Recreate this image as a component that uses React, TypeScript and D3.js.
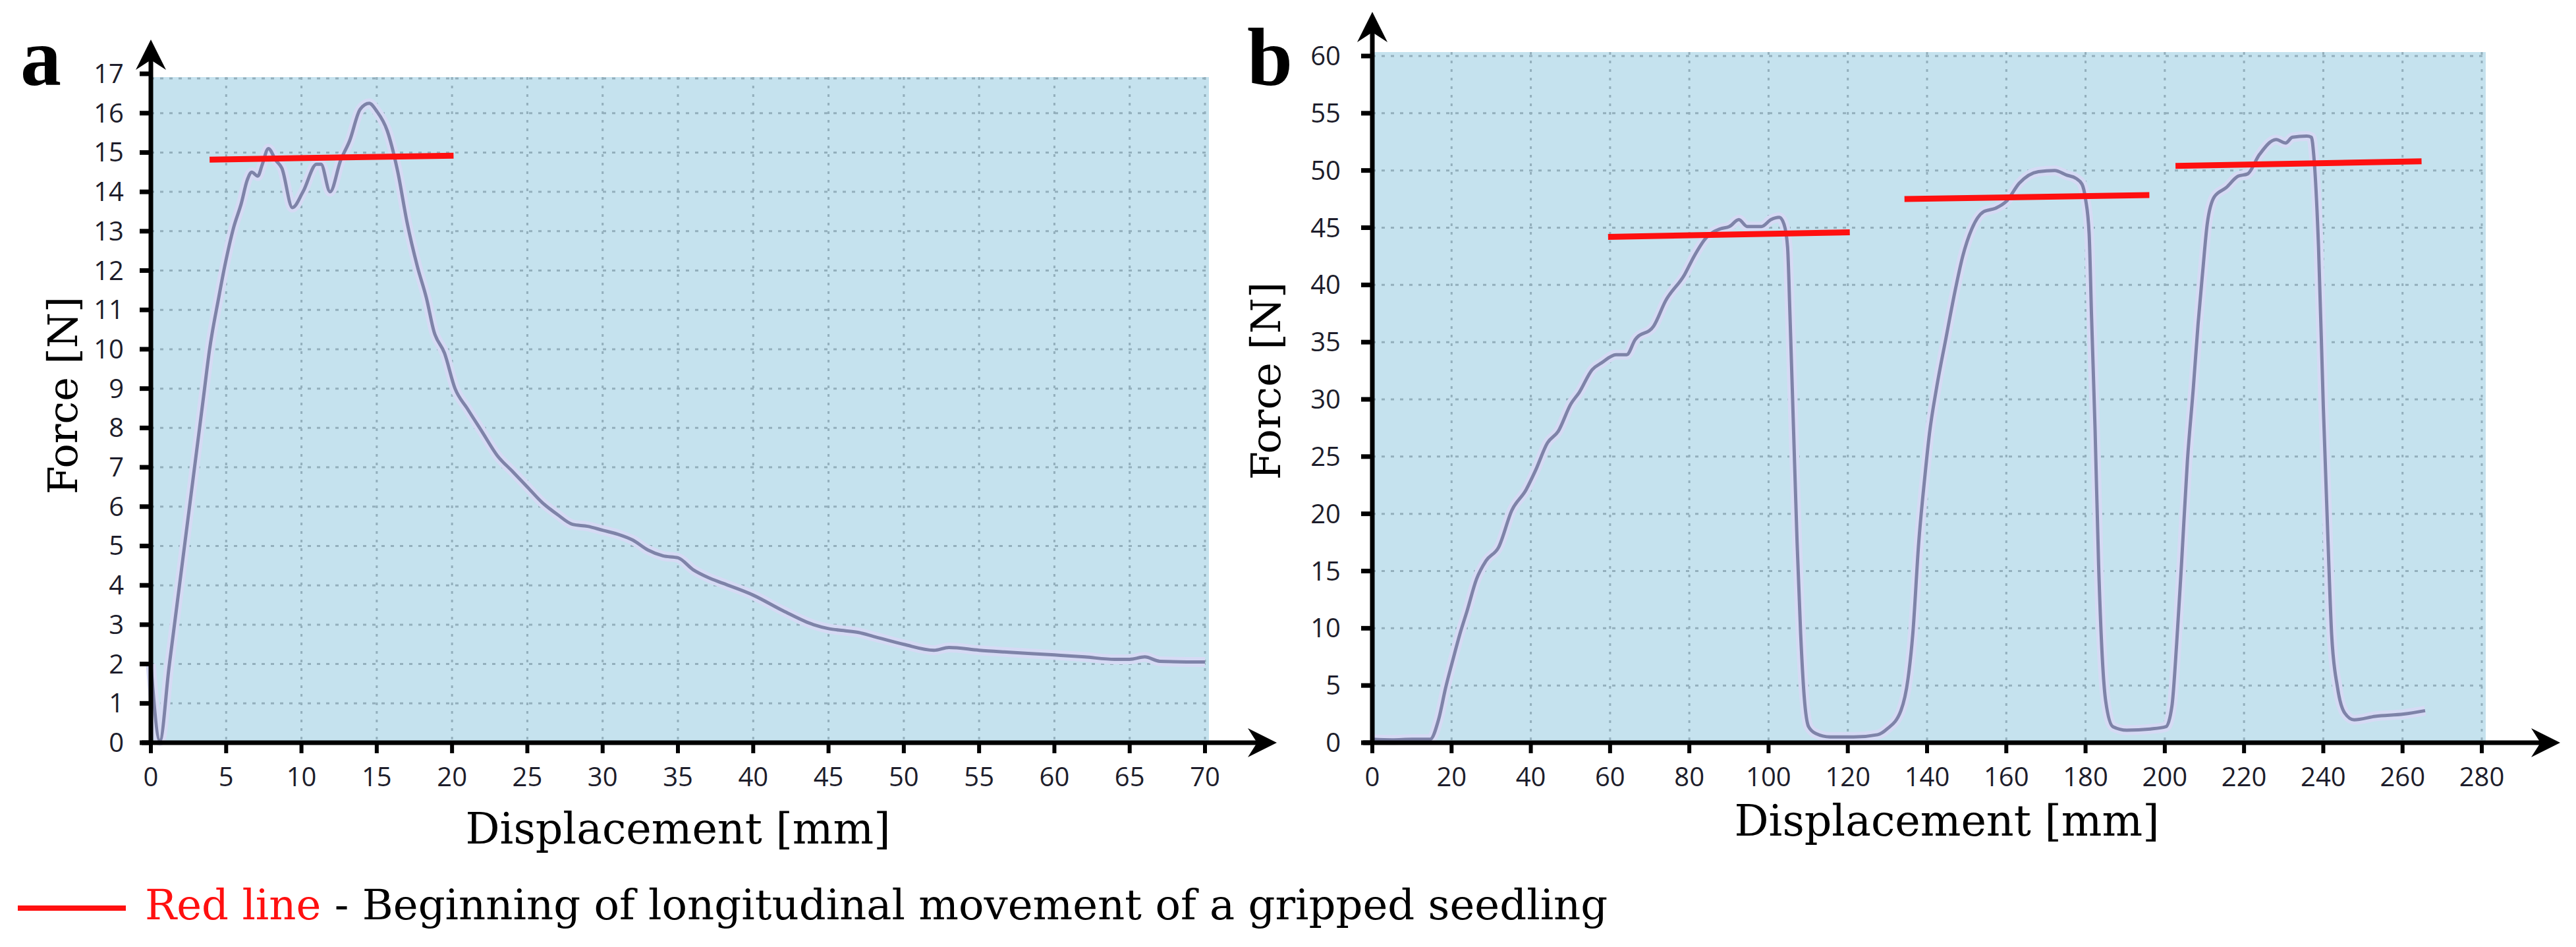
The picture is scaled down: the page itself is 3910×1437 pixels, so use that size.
import { useEffect, useRef } from 'react';
import * as d3 from 'd3';

// Panel a: displacement [mm] and force [N]
const displacementA = [
  0, 0.6, 1.2, 2.0, 2.8, 3.5, 3.9, 4.5, 4.9, 5.5, 6.0, 6.4, 6.7, 7.1, 7.4, 7.8, 8.3, 8.7, 9.4, 10.1,
  11.0, 11.3, 11.9, 12.6, 13.2, 13.9, 14.5, 15.0, 15.7, 16.4, 17.0, 17.7, 18.3, 18.8, 19.5, 20.2, 21, 22,
  23, 24, 25, 26, 27, 28, 29, 30, 31, 32, 33, 34, 35, 36, 37, 38, 40, 42, 44, 45, 46, 47, 48, 50, 52, 53,
  55, 57, 60, 62, 64, 65, 66, 67, 70,
];
const forceA = [
  2.0, 0.05, 1.9, 4.3, 6.7, 8.8, 10.0, 11.3, 12.1, 13.1, 13.7, 14.3, 14.5, 14.4, 14.7, 15.1, 14.8, 14.6,
  13.6, 14.0, 14.7, 14.7, 14.0, 14.8, 15.3, 16.1, 16.25, 16.05, 15.55, 14.5, 13.25, 12.1, 11.3, 10.45, 9.9,
  9.0, 8.5, 7.9, 7.3, 6.9, 6.5, 6.1, 5.8, 5.55, 5.5, 5.4, 5.3, 5.15, 4.9, 4.75, 4.7, 4.4, 4.2, 4.05, 3.75,
  3.35, 3.0, 2.9, 2.85, 2.8, 2.7, 2.5, 2.35, 2.42, 2.35, 2.3, 2.23, 2.18, 2.12, 2.12, 2.18, 2.07, 2.05,
];

// Panel b
const displacementB = [
  0, 5, 10, 14.6, 16.7, 18.5, 20.3, 22.1, 23.9, 26.3, 28.7, 31.9, 35.2, 38.8, 41.2, 44.2, 46.9, 50.1, 52.2,
  55.5, 57.9, 61.5, 64.2, 66.3, 71.0, 74.0, 78.8, 81.2, 84.2, 87.8, 90.1, 92.5, 94.6, 98.2, 100.6, 102.7,
  103.9, 104.8, 105.4, 106.3, 107.2, 108.1, 109.0, 110.1, 111.9, 115.5, 121.5, 127.5, 129.9, 133.4, 135.2,
  136.4, 137.9, 139.4, 140.6, 142.4, 144.8, 147.2, 149.0, 151.3, 154.3, 157.3, 160.0, 163.3, 168.1, 172.2,
  175.2, 177.6, 179.1, 180, 180.9, 181.5, 182.4, 183.3, 184.2, 185.1, 186.9, 190.4, 196.4, 200.3, 201.8,
  203.0, 204.2, 205.7, 207.2, 208.4, 209.6, 210.7, 212.5, 215.5, 218.5, 220.9, 223.9, 228.1, 230.5, 232.2,
  235.8, 237.0, 237.6, 238.8, 240.0, 241.2, 242.1, 243.6, 245.4, 247.8, 253.1, 260.3, 265.7,
];
const forceB = [
  0.3, 0.25, 0.3, 0.3, 2.0, 4.8, 7.2, 9.5, 11.5, 14.3, 15.9, 17.1, 20.3, 22.1, 23.8, 26.2, 27.2, 29.6, 30.6,
  32.6, 33.2, 33.9, 33.9, 35.2, 36.4, 38.6, 40.9, 42.5, 44.1, 44.9, 45.1, 45.7, 45.1, 45.1, 45.7, 45.9,
  45.3, 43.3, 37.4, 27.4, 17.5, 9.5, 4.0, 1.4, 0.8, 0.5, 0.5, 0.7, 1.2, 2.8, 5.6,
  9.5, 17.5, 23.1, 27.0, 31.0, 35.4, 39.7, 42.5, 44.9, 46.4, 46.7, 47.3, 48.9, 49.9, 50.0,
  49.6, 49.3, 48.8, 47.5, 44.5, 37.4, 27.4, 15.5, 7.6, 3.6, 1.4, 1.1, 1.2, 1.4, 3.2,
  8.7, 15.5, 24.6, 31.0, 36.6, 41.3, 45.3, 47.7, 48.5, 49.5, 49.7, 51.4, 52.7, 52.4, 52.9,
  53.0, 52.9, 51.3, 43.3, 29.4, 17.5, 9.5, 4.8, 2.6, 2.0, 2.3, 2.5, 2.8,
];

// red lines: [x start, force start, x end, force end]
const redLinesA = [[3.9, 14.82, 20.1, 14.92]];
const redLinesB = [
  [59.5, 44.2, 120.5, 44.6],
  [134.3, 47.5, 196.1, 47.85],
  [202.7, 50.4, 264.8, 50.8],
];

const xTicksA = [0, 5, 10, 15, 20, 25, 30, 35, 40, 45, 50, 55, 60, 65, 70];
const yTicksA = [0, 1, 2, 3, 4, 5, 6, 7, 8, 9, 10, 11, 12, 13, 14, 15, 16, 17];
const xTicksB = [0, 20, 40, 60, 80, 100, 120, 140, 160, 180, 200, 220, 240, 260, 280];
const yTicksB = [0, 5, 10, 15, 20, 25, 30, 35, 40, 45, 50, 55, 60];

const legendName = 'Red line';
const legendText = ' - Beginning of longitudinal movement of a gripped seedling';
const xTitle = 'Displacement [mm]';
const yTitle = 'Force [N]';

const W = 3910;
const H = 1437;
const SERIF = '"DejaVu Serif", serif';
const SANS = '"Open Sans", "Noto Sans", sans-serif';

type PanelLayout = {
  letter: string;
  xs: number[];
  fs: number[];
  reds: number[][];
  xTicks: number[];
  yTicks: number[];
  left: number;
  right: number;
  top: number;
  bottom: number;
  bgTop: number;
  bgRight: number;
  yArrowTip: number;
  xArrowTip: number;
  letterX: number;
  yLabelGap: number;
  yTitleX: number;
  yTitleY: number;
  xTitleX: number;
  xTitleY: number;
};

const panels: PanelLayout[] = [
  {
    letter: 'a', xs: displacementA, fs: forceA, reds: redLinesA, xTicks: xTicksA, yTicks: yTicksA,
    left: 229, right: 1829, top: 112, bottom: 1127, bgTop: 117, bgRight: 1835, yArrowTip: 60, xArrowTip: 1938,
    letterX: 31, yLabelGap: 41, yTitleX: 117, yTitleY: 600, xTitleX: 1029, xTitleY: 1280,
  },
  {
    letter: 'b', xs: displacementB, fs: forceB, reds: redLinesB, xTicks: xTicksB, yTicks: yTicksB,
    left: 2083, right: 3767, top: 85, bottom: 1127, bgTop: 79, bgRight: 3773, yArrowTip: 18, xArrowTip: 3886,
    letterX: 1893, yLabelGap: 48, yTitleX: 1943, yTitleY: 578, xTitleX: 2955, xTitleY: 1268,
  },
];

const App = () => {
  const ref = useRef<SVGSVGElement | null>(null);

  useEffect(() => {
    if (!ref.current) return;
    const svg = d3.select(ref.current);
    svg.selectAll('*').remove();

    panels.forEach((p) => {
      const x = d3.scaleLinear().domain([p.xTicks[0], p.xTicks[p.xTicks.length - 1]]).range([p.left, p.right]);
      const y = d3.scaleLinear().domain([p.yTicks[0], p.yTicks[p.yTicks.length - 1]]).range([p.bottom, p.top]);
      const g = svg.append('g');

      g.append('rect')
        .attr('x', p.left)
        .attr('y', p.bgTop)
        .attr('width', p.bgRight - p.left)
        .attr('height', p.bottom - p.bgTop)
        .attr('fill', '#c5e2ee');

      // dotted grid
      g.append('g')
        .selectAll('line')
        .data(p.xTicks.slice(1))
        .join('line')
        .attr('x1', (d) => x(d))
        .attr('x2', (d) => x(d))
        .attr('y1', p.bgTop)
        .attr('y2', p.bottom)
        .attr('stroke', '#93afbc')
        .attr('stroke-width', 3)
        .attr('stroke-dasharray', '4 9');
      g.append('g')
        .selectAll('line')
        .data(p.yTicks.slice(1))
        .join('line')
        .attr('x1', p.left)
        .attr('x2', p.bgRight)
        .attr('y1', (d) => Math.max(y(d), p.bgTop + 2))
        .attr('y2', (d) => Math.max(y(d), p.bgTop + 2))
        .attr('stroke', '#93afbc')
        .attr('stroke-width', 3)
        .attr('stroke-dasharray', '5 9');

      // force curve
      const points = p.xs.map((d, i) => [d, p.fs[i]] as [number, number]);
      const line = d3
        .line<[number, number]>()
        .x((d) => x(d[0]))
        .y((d) => y(d[1]))
        .curve(d3.curveMonotoneX);
      g.append('path')
        .attr('d', line(points))
        .attr('fill', 'none')
        .attr('stroke', '#d6daf4')
        .attr('stroke-width', 15)
        .attr('stroke-linejoin', 'round');
      g.append('path')
        .attr('d', line(points))
        .attr('fill', 'none')
        .attr('stroke', '#7e83a8')
        .attr('stroke-width', 5)
        .attr('stroke-linejoin', 'round');

      // red lines
      g.append('g')
        .selectAll('line')
        .data(p.reds)
        .join('line')
        .attr('x1', (d) => x(d[0]))
        .attr('y1', (d) => y(d[1]))
        .attr('x2', (d) => x(d[2]))
        .attr('y2', (d) => y(d[3]))
        .attr('stroke', '#ff1010')
        .attr('stroke-width', 9);

      // axes
      const ax = p.left;
      const ay = p.bottom;
      g.append('line')
        .attr('x1', ax)
        .attr('x2', ax)
        .attr('y1', ay + 3)
        .attr('y2', p.yArrowTip + 8)
        .attr('stroke', '#000')
        .attr('stroke-width', 7);
      g.append('line')
        .attr('x1', ax - 14)
        .attr('x2', p.xArrowTip - 8)
        .attr('y1', ay)
        .attr('y2', ay)
        .attr('stroke', '#000')
        .attr('stroke-width', 7);
      const t = p.yArrowTip;
      g.append('path')
        .attr('d', `M${ax},${t} L${ax + 23},${t + 46} L${ax},${t + 31} L${ax - 23},${t + 46} Z`)
        .attr('fill', '#000');
      const r = p.xArrowTip;
      g.append('path')
        .attr('d', `M${r},${ay} L${r - 44},${ay - 22} L${r - 30},${ay} L${r - 44},${ay + 22} Z`)
        .attr('fill', '#000');

      // ticks
      g.append('g')
        .selectAll('line')
        .data(p.yTicks)
        .join('line')
        .attr('x1', ax - 17)
        .attr('x2', ax)
        .attr('y1', (d) => y(d))
        .attr('y2', (d) => y(d))
        .attr('stroke', '#000')
        .attr('stroke-width', 7);
      g.append('g')
        .selectAll('line')
        .data(p.xTicks)
        .join('line')
        .attr('x1', (d) => x(d))
        .attr('x2', (d) => x(d))
        .attr('y1', ay)
        .attr('y2', ay + 16)
        .attr('stroke', '#000')
        .attr('stroke-width', 6);

      // tick labels
      g.append('g')
        .selectAll('text')
        .data(p.yTicks)
        .join('text')
        .attr('x', ax - p.yLabelGap)
        .attr('y', (d) => y(d) + 14)
        .attr('text-anchor', 'end')
        .attr('font-family', SANS)
        .attr('font-size', 40)
        .attr('fill', '#1d1d2b')
        .text((d) => d);
      g.append('g')
        .selectAll('text')
        .data(p.xTicks)
        .join('text')
        .attr('x', (d) => x(d))
        .attr('y', ay + 66)
        .attr('text-anchor', 'middle')
        .attr('font-family', SANS)
        .attr('font-size', 40)
        .attr('fill', '#1d1d2b')
        .text((d) => d);

      // titles
      g.append('text')
        .attr('x', p.letterX)
        .attr('y', 129)
        .attr('font-family', '"Liberation Serif", serif')
        .attr('font-weight', 'bold')
        .attr('font-size', 124)
        .text(p.letter);
      g.append('text')
        .attr('transform', `translate(${p.yTitleX},${p.yTitleY}) rotate(-90)`)
        .attr('text-anchor', 'middle')
        .attr('font-family', SERIF)
        .attr('font-size', 62)
        .text(yTitle);
      g.append('text')
        .attr('x', p.xTitleX)
        .attr('y', p.xTitleY)
        .attr('text-anchor', 'middle')
        .attr('font-family', SERIF)
        .attr('font-size', 65)
        .text(xTitle);
    });

    // legend
    svg.append('line')
      .attr('x1', 27)
      .attr('x2', 191)
      .attr('y1', 1378)
      .attr('y2', 1378)
      .attr('stroke', '#ff1010')
      .attr('stroke-width', 8);
    const legend = svg.append('text')
      .attr('x', 220)
      .attr('y', 1395)
      .attr('font-family', SERIF)
      .attr('font-size', 64);
    legend.append('tspan').attr('fill', '#ff1010').text(legendName);
    legend.append('tspan').attr('fill', '#000').attr('xml:space', 'preserve').text(legendText);
  }, []);

  return (
    <svg
      ref={ref}
      width={W}
      height={H}
      viewBox={`0 0 ${W} ${H}`}
      style={{ position: 'absolute', left: 0, top: 0, background: '#fff' }}
      role="img"
      aria-label="Force versus displacement charts"
    />
  );
};

export default App;
